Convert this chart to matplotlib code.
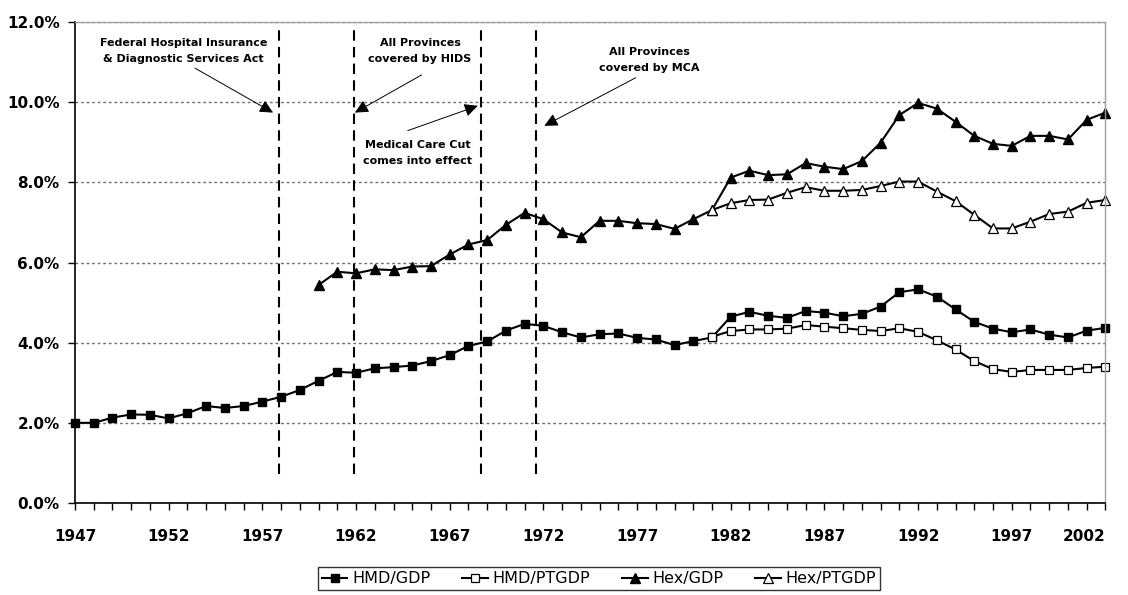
import numpy as np
import matplotlib.pyplot as plt
from matplotlib.ticker import FixedLocator, MultipleLocator, FuncFormatter

plt.rcParams['font.family'] = ['DejaVu Sans']

years = list(range(1947, 2003))

# health spending shares, percent of GDP
hmd_gdp = [2.00, 2.00, 2.13, 2.21, 2.20, 2.11, 2.24, 2.42, 2.37, 2.42,
           2.53, 2.65, 2.82, 3.05, 3.27, 3.25, 3.36, 3.39, 3.43, 3.54,
           3.69, 3.92, 4.03, 4.30, 4.47, 4.42, 4.26, 4.13, 4.21, 4.23,
           4.12, 4.08, 3.94, 4.04, 4.13, 4.65, 4.77, 4.67, 4.62, 4.79,
           4.75, 4.66, 4.72, 4.90, 5.26, 5.33, 5.15, 4.83, 4.52, 4.35,
           4.26, 4.33, 4.20, 4.13, 4.30, 4.37]

ptgdp_years = list(range(1981, 2003))
hmd_ptgdp = [4.15, 4.29, 4.33, 4.33, 4.35, 4.44, 4.40, 4.36, 4.32, 4.29,
             4.36, 4.27, 4.06, 3.83, 3.54, 3.34, 3.27, 3.32, 3.32, 3.32,
             3.37, 3.40]

hex_years = list(range(1960, 2003))
hex_gdp = [5.44, 5.77, 5.73, 5.83, 5.81, 5.90, 5.91, 6.20, 6.45, 6.56,
           6.94, 7.24, 7.08, 6.75, 6.63, 7.04, 7.04, 6.98, 6.96, 6.84,
           7.08, 7.31, 8.12, 8.29, 8.18, 8.20, 8.48, 8.39, 8.33, 8.53,
           8.99, 9.68, 9.98, 9.84, 9.51, 9.16, 8.96, 8.91, 9.16, 9.16,
           9.07, 9.56, 9.74]

hex_ptgdp = [7.31, 7.48, 7.56, 7.57, 7.74, 7.88, 7.79, 7.79, 7.81, 7.91,
             8.02, 8.02, 7.77, 7.53, 7.19, 6.85, 6.85, 7.02, 7.21, 7.27,
             7.49, 7.56]

# policy markers
event_years = [1957.87, 1961.88, 1968.66, 1971.58]
event_labels = ['Federal Hospital Insurance\n& Diagnostic Services Act',
                'All Provinces\ncovered by HIDS',
                'Medical Care Cut\ncomes into effect',
                'All Provinces\ncovered by MCA']
label_pos = [(1952.78, 11.28), (1965.42, 11.28), (1965.29, 8.73), (1977.64, 11.05)]
arrow_tail = [(1953.4, 10.85), (1965.5, 10.68), (1964.76, 9.29), (1976.93, 10.61)]
arrow_tip = [(1957.57, 9.74), (1961.94, 9.74), (1968.5, 9.91), (1972.05, 9.41)]

fig = plt.figure(figsize=(11.28, 5.95), dpi=100)
ax = fig.add_axes([0.0665, 0.1546, 0.9135, 0.8084])

line_kw = dict(color='black', lw=1.5, clip_on=False)
ax.plot(years, hmd_gdp, marker='s', ms=6, mfc='black', mec='black',
        label='HMD/GDP', **line_kw)
ax.plot(ptgdp_years, hmd_ptgdp, marker='s', ms=6, mfc='white', mec='black',
        mew=0.9, label='HMD/PTGDP', **line_kw)
ax.plot(hex_years, hex_gdp, marker='^', ms=7.5, mfc='black', mec='black',
        label='Hex/GDP', **line_kw)
ax.plot(ptgdp_years, hex_ptgdp, marker='^', ms=7.5, mfc='white', mec='black',
        mew=0.9, label='Hex/PTGDP', **line_kw)

ax.vlines(event_years, 0.72, 11.83, colors='black', lw=1.5,
          linestyles=(0, (5, 3)))

for txt, (tx, ty), tail, tip in zip(event_labels, label_pos, arrow_tail, arrow_tip):
    ax.text(tx, ty, txt, ha='center', va='center', fontsize=8,
            fontweight='bold', linespacing=1.7)
    ax.annotate('', xy=tip, xytext=tail,
                arrowprops=dict(arrowstyle='-|>,head_length=0.45,head_width=0.22',
                                mutation_scale=18, lw=0.7, color='black',
                                shrinkA=0, shrinkB=0))

ax.set_xlim(1947, 2002)
ax.set_ylim(0, 12)
ax.xaxis.set_major_locator(FixedLocator(list(range(1947, 2003, 5))))
ax.xaxis.set_minor_locator(MultipleLocator(1))
ax.yaxis.set_major_locator(MultipleLocator(2))
ax.yaxis.set_major_formatter(FuncFormatter(lambda v, p: f'{v:.1f}%'))

ax.grid(axis='y', color='#707070', lw=1, linestyle=(0, (2, 2)))
ax.set_axisbelow(True)

for s in ['left', 'bottom']:
    ax.spines[s].set_color('black')
    ax.spines[s].set_linewidth(1.2)
for s in ['top', 'right']:
    ax.spines[s].set_color('#a0a0a0')
    ax.spines[s].set_linewidth(1)

ax.tick_params(axis='x', which='both', direction='out', length=5, width=1,
               pad=14, labelsize=11)
ax.tick_params(axis='y', direction='out', length=5, width=1, pad=6,
               labelsize=11)
for lab in ax.get_xticklabels() + ax.get_yticklabels():
    lab.set_fontweight('bold')
ax.get_xticklabels()[-1].set_horizontalalignment('right')

leg = fig.legend(loc='center', bbox_to_anchor=(0.531, 0.027), ncol=4,
                 frameon=True, fancybox=False, fontsize=11.5,
                 handlelength=1.6, handletextpad=0.3, columnspacing=2.0,
                 borderpad=0.25, borderaxespad=0)
leg.get_frame().set_edgecolor('black')
leg.get_frame().set_linewidth(1)

plt.savefig('out.png', dpi=100)
